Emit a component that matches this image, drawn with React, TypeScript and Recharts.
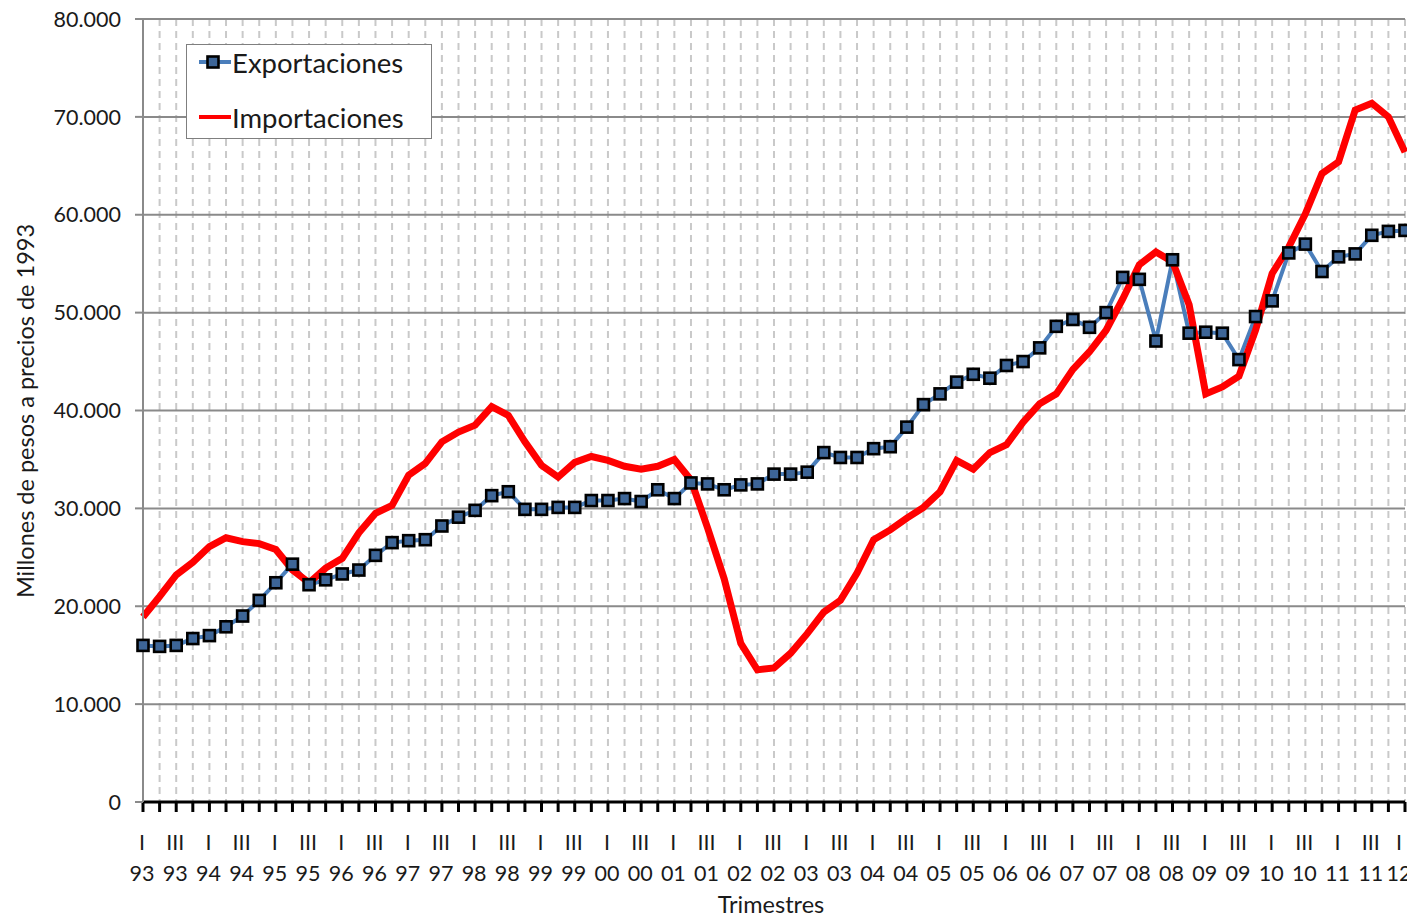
import React from "react";
import { LineChart, Line, XAxis, YAxis, CartesianGrid, Label } from "recharts";

const years = ["93","94","95","96","97","98","99","00","01","02","03","04","05","06","07","08","09","10","11","12"];
const quarterNames = ["I", "II", "III", "IV"];

const exportaciones = [
  16000, 15900, 16000, 16700, 17000, 17900, 19000, 20600, 22400, 24300,
  22200, 22700, 23300, 23700, 25200, 26500, 26700, 26800, 28200, 29100,
  29800, 31300, 31700, 29900, 29900, 30100, 30100, 30800, 30800, 31000,
  30700, 31900, 31000, 32600, 32500, 31900, 32400, 32500, 33500, 33500,
  33700, 35700, 35200, 35200, 36100, 36300, 38300, 40600, 41700, 42900,
  43700, 43300, 44600, 45000, 46400, 48600, 49300, 48500, 50000, 53600,
  53400, 47100, 55400, 47900, 48000, 47900, 45200, 49600, 51200, 56100,
  57000, 54200, 55700, 56000, 57900, 58300, 58400,
];

const importaciones = [
  18900, 21000, 23200, 24500, 26100, 27000, 26600, 26400, 25800, 23700,
  22400, 23900, 24900, 27500, 29500, 30300, 33400, 34600, 36800, 37800,
  38500, 40400, 39500, 36800, 34400, 33200, 34700, 35300, 34900, 34300,
  34000, 34300, 35000, 32900, 28000, 22800, 16200, 13500, 13700, 15200,
  17200, 19400, 20600, 23400, 26800, 27800, 29000, 30100, 31700, 34900,
  34000, 35700, 36500, 38800, 40700, 41700, 44200, 46000, 48200, 51400,
  54900, 56200, 55200, 50800, 41700, 42400, 43500, 48200, 54000, 56700,
  60100, 64200, 65400, 70700, 71400, 70000, 66400,
];

const yTicks = [0, 10000, 20000, 30000, 40000, 50000, 60000, 70000, 80000];

const quarters: { q: string; roman: string; year: string }[] = [];
years.forEach((y) => {
  quarterNames.forEach((r) => {
    quarters.push({ q: `${r} ${y}`, roman: r, year: y });
  });
});

const data = exportaciones.map((e, i) => ({
  q: quarters[i].q,
  roman: quarters[i].roman,
  year: quarters[i].year,
  exp: e,
  imp: importaciones[i],
}));

const FONT = "Lato, 'Open Sans', sans-serif";
const TEXT = "#1a1a1a";

const fmt = (v: number) => {
  if (v === 0) return "0";
  const s = String(Math.round(v));
  return s.slice(0, s.length - 3) + "." + s.slice(s.length - 3);
};

const XTick = (props: any) => {
  const { x, y, payload, index } = props;
  const i = payload.index ?? index;
  if (i % 2 !== 0) return null;
  const d = data[i];
  const shift = i === data.length - 1 ? -6 : -1;
  return (
    <g>
      <text x={x + shift} y={y + 28} textAnchor="middle" dominantBaseline="central" fontSize={21.5} fontFamily={FONT} fill={TEXT}>
        {d.roman}
      </text>
      <text x={x + shift} y={y + 59} textAnchor="middle" dominantBaseline="central" fontSize={21.5} fontFamily={FONT} fill={TEXT}>
        {d.year}
      </text>
    </g>
  );
};

const SquareDot = (props: any) => {
  const { cx, cy, index } = props;
  if (cx == null || cy == null) return <g key={index} />;
  return (
    <rect key={index} x={cx - 5.5} y={cy - 5.5} width={11} height={11} fill="#3d6597" stroke="#000000" strokeWidth={2.6} />
  );
};

export default function App() {
  return (
    <div style={{ position: "relative", width: 1415, height: 919, marginLeft: -8, marginTop: -8 }}>
      <LineChart width={1415} height={919} data={data} margin={{ top: 19, right: 10, left: 0, bottom: 0 }}>
        <CartesianGrid horizontal={false} vertical={true} stroke="#c9c9c9" strokeWidth={2} strokeDasharray="7 5" />
        <CartesianGrid horizontal={true} vertical={false} stroke="#8a8a8a" strokeWidth={2} />
        <XAxis
          dataKey="q"
          interval={0}
          height={117}
          tick={<XTick />}
          tickSize={10}
          tickLine={{ stroke: "#000", strokeWidth: 3 }}
          axisLine={{ stroke: "#000", strokeWidth: 3 }}
        >
          <Label
            content={() => (
              <text x={771} y={904} textAnchor="middle" dominantBaseline="central" fontSize={23.5} fontFamily={FONT} fill={TEXT}>
                Trimestres
              </text>
            )}
          />
        </XAxis>
        <YAxis
          width={143}
          domain={[0, 80000]}
          ticks={yTicks}
          interval={0}
          tickFormatter={fmt}
          tickSize={8}
          tickMargin={14}
          tick={{ fontSize: 21.5, fontFamily: FONT, fill: TEXT }}
          tickLine={{ stroke: "#8a8a8a", strokeWidth: 2 }}
          axisLine={{ stroke: "#8a8a8a", strokeWidth: 2 }}
        >
          <Label
            content={() => (
              <text
                x={25}
                y={411}
                transform="rotate(-90 25 411)"
                textAnchor="middle"
                dominantBaseline="central"
                fontSize={23.5}
                fontFamily={FONT}
                fill={TEXT}
              >
                Millones de pesos a precios de 1993
              </text>
            )}
          />
        </YAxis>
        <Line
          type="linear"
          dataKey="exp"
          name="Exportaciones"
          stroke="#4a7ebb"
          strokeWidth={4}
          dot={<SquareDot />}
          activeDot={false}
          isAnimationActive={false}
        />
        <Line
          type="linear"
          dataKey="imp"
          name="Importaciones"
          stroke="#ff0000"
          strokeWidth={7}
          dot={false}
          activeDot={false}
          isAnimationActive={false}
        />
      </LineChart>
      <div
        style={{
          position: "absolute",
          left: 186,
          top: 44,
          width: 246,
          height: 95,
          background: "#ffffff",
          border: "1.5px solid #7f7f7f",
          boxSizing: "border-box",
        }}
      >
        <svg width={246} height={95} style={{ position: "absolute", left: -1.5, top: -1.5 }}>
          <line x1={13} x2={45} y1={18} y2={18} stroke="#4a7ebb" strokeWidth={4} />
          <rect x={21.5} y={12.5} width={11} height={11} fill="#3d6597" stroke="#000" strokeWidth={2.6} />
          <line x1={13} x2={45} y1={73} y2={73} stroke="#ff0000" strokeWidth={4} />
          <text x={46} y={18} dominantBaseline="central" fontSize={27.5} fontFamily={FONT} fill={TEXT}>Exportaciones</text>
          <text x={46} y={73} dominantBaseline="central" fontSize={27.5} fontFamily={FONT} fill={TEXT}>Importaciones</text>
        </svg>
      </div>
    </div>
  );
}
